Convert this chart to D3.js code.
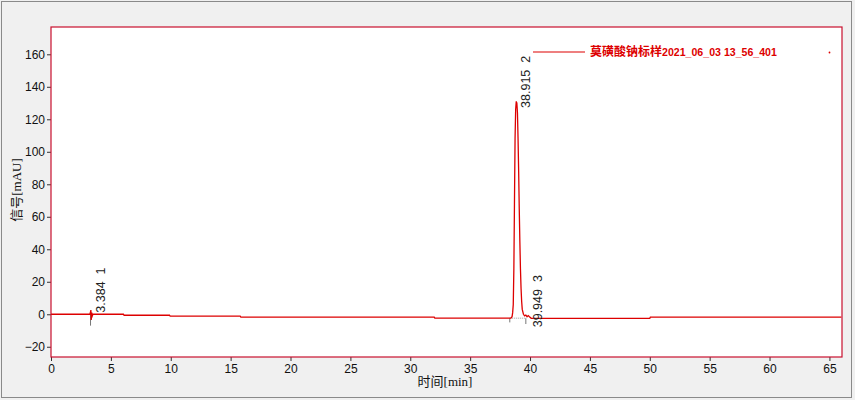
<!DOCTYPE html>
<html><head><meta charset="utf-8">
<script src="https://cdn.jsdelivr.net/npm/d3@7"></script>
<style>
html,body{margin:0;padding:0;background:#f0f0f0;}
svg{display:block;}
</style></head>
<body>
<svg id="chart" width="855" height="400"></svg>
<script>
// ---- data ----
const times = [0, 3.25, 3.30, 3.33, 3.36, 3.40, 3.45, 3.50, 6.05, 6.10, 9.90, 9.95, 15.80, 15.85, 32.00, 32.05,
  38.40, 38.50, 38.55, 38.60, 38.65, 38.70, 38.75, 38.80, 38.85, 38.90, 38.95, 39.00, 39.05, 39.10, 39.15,
  39.20, 39.25, 39.30, 39.35, 39.45, 39.55, 39.65, 39.75, 39.85, 39.95, 40.10, 50.00, 50.05, 66.0];
const signal = [0, 0, 1.5, 2.6, -3.5, 1.0, -1.0, 0, 0, -0.6, -0.6, -1.2, -1.2, -1.7, -1.8, -2.4,
  -2.4, -1.5, 1.0, 6.0, 28, 68, 108, 126, 131, 130, 124, 108, 88, 65, 45,
  28, 16, 8, 3, 0, -1.0, -0.5, -1.5, -0.8, -1.5, -2.5, -2.5, -1.7, -1.7];
const peakTimes = [3.384, 38.915, 39.949];
const peakLabels = ["3.384  1", "38.915  2", "39.949  3"];
const peakLabelBase = [1, 127, -8];   // signal level where label starts
const markerTimes = [3.30, 38.31, 39.65];
const markerTop = [0, -2.4, -2.4];
const markerBottom = [-7, -5, -6];
const xTicks = [0,5,10,15,20,25,30,35,40,45,50,55,60,65];
const yTicks = [-20,0,20,40,60,80,100,120,140,160];
const legendName = "莫磺酸钠标样";
const legendRest = "2021_06_03 13_56_401";

// ---- layout ----
const svg = d3.select("#chart");
const L = 51, R = 842, T = 27, B = 357;
const x = d3.scaleLinear().domain([0, 66.05]).range([L, R]);
const y = d3.scaleLinear().domain([-26.3, 176.8]).range([B, T]);
const red = "#dd0000", frameRed = "#c8102e";

svg.append("rect").attr("x",0).attr("y",0).attr("width",855).attr("height",400).attr("fill","#f0f0f0");
svg.append("rect").attr("x",1.5).attr("y",1.5).attr("width",850).attr("height",396)
  .attr("fill","none").attr("stroke","#8a8a8a").attr("stroke-width",1);
svg.append("rect").attr("x",L).attr("y",T).attr("width",R-L).attr("height",B-T).attr("fill","#fff");

// axes
const xAxis = svg.append("g").attr("transform",`translate(0,${B})`)
  .call(d3.axisBottom(x).tickValues(xTicks).tickSize(4).tickPadding(3).tickFormat(d3.format("d")));
const yAxis = svg.append("g").attr("transform",`translate(${L},0)`)
  .call(d3.axisLeft(y).tickValues(yTicks).tickSize(4).tickPadding(2).tickFormat(d3.format("d")));
[xAxis,yAxis].forEach(a=>{
  a.select(".domain").remove();
  a.selectAll("line").attr("stroke","#333");
  a.selectAll("text").attr("font-family","'Liberation Sans', Arial, sans-serif").attr("font-size","12px").attr("fill","#111");
});

// markers (gray baseline drops)
svg.append("g").selectAll("line").data(markerTimes).join("line")
  .attr("x1",d=>x(d)).attr("x2",d=>x(d))
  .attr("y1",(d,i)=>y(markerTop[i])).attr("y2",(d,i)=>y(markerBottom[i]))
  .attr("stroke","#777").attr("stroke-width",1);
svg.append("line").attr("x1",x(markerTimes[1])).attr("x2",x(markerTimes[2]))
  .attr("y1",y(-2.4)).attr("y2",y(-2.4)).attr("stroke","#999").attr("stroke-dasharray","1,1");

// trace
const line = d3.line().x(d=>x(d[0])).y(d=>y(d[1]));
svg.append("path").datum(times.map((t,i)=>[t,signal[i]]))
  .attr("d",line).attr("fill","none").attr("stroke",red).attr("stroke-width",1.3);

// frame
svg.append("rect").attr("x",L).attr("y",T).attr("width",R-L).attr("height",B-T)
  .attr("fill","none").attr("stroke",frameRed).attr("stroke-width",1.2);

// peak labels
const labelDx = [13, 13, 13];
svg.append("g").selectAll("text").data(peakTimes).join("text")
  .attr("transform",(d,i)=>`translate(${x(d)+labelDx[i]},${y(peakLabelBase[i])}) rotate(-90)`)
  .attr("font-family","'Liberation Sans', Arial, sans-serif").attr("font-size","12.5px").attr("fill","#222")
  .attr("xml:space","preserve").style("white-space","pre")
  .text((d,i)=>peakLabels[i]);

// legend
svg.append("line").attr("x1",533).attr("x2",585).attr("y1",52).attr("y2",52).attr("stroke",red).attr("stroke-width",1.2);
const lt = svg.append("text").attr("x",590).attr("y",55.5).attr("fill",red).attr("font-weight","bold");
lt.append("tspan").attr("font-family","'Noto Sans CJK SC', sans-serif").attr("font-size","12px").text(legendName);
lt.append("tspan").attr("font-family","'Liberation Sans', Arial, sans-serif").attr("font-size","10.6px").text(legendRest);
svg.append("circle").attr("cx",829.5).attr("cy",52.5).attr("r",0.9).attr("fill",red);

// axis titles
svg.append("text").attr("x",445).attr("y",386).attr("text-anchor","middle")
  .attr("font-family","'Liberation Serif', 'Noto Sans CJK SC', serif").attr("font-size","13px").attr("fill","#111")
  .text("时间[min]");
svg.append("text").attr("transform","translate(21,190) rotate(-90)").attr("text-anchor","middle")
  .attr("font-family","'Liberation Serif', 'Noto Sans CJK SC', serif").attr("font-size","13px").attr("fill","#111")
  .text("信号[mAU]");
</script>
</body></html>
